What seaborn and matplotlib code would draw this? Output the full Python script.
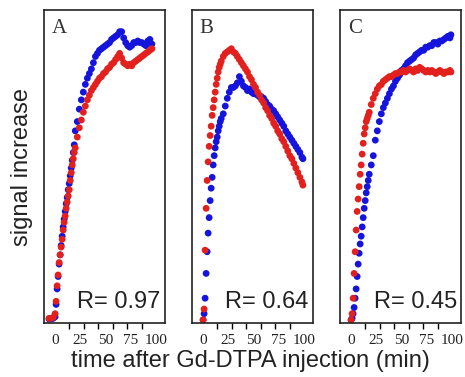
import pandas as pd
import matplotlib.pyplot as plt
import seaborn as sns
import numpy as np

sns.set_theme(style="ticks")
plt.rcParams['font.family'] = ['Liberation Sans', 'DejaVu Sans']

# time points (min) and signal increase (% of panel height)
t_a = [-6, -4, -2, 0, 1, 2, 3, 4, 5, 6, 7, 8, 9, 10, 11, 12, 13, 14, 15, 16, 17, 18, 19, 20,
       22, 24, 26, 28, 30, 32, 34, 36, 38, 40, 42, 44, 46, 48, 50, 52, 54, 56, 58, 60,
       62, 64, 66, 68, 70, 72, 74, 76, 78, 80, 82, 84, 86, 88, 90, 92, 94, 96]
red_a = [0.5, 0.5, 0.8, 2, 6, 11, 14.5, 18.5, 21, 23.5, 26, 29, 31.5, 33.5, 36, 38, 40, 42, 45, 47.5, 50, 52, 54, 55.5,
         59, 62, 64.5, 67, 69, 71, 72.5, 74, 75, 76, 77, 78, 78.5, 79.5, 80, 81, 81.5, 82.5, 83, 84,
         85, 86, 84.5, 83, 82.5, 82, 82.5, 82, 83, 83.5, 84, 84.5, 85, 85.5, 86, 86.5, 87, 87.5]
blue_a = [0.3, 0.3, 0.5, 1, 5, 10, 14, 18, 21, 24, 27, 30, 32.5, 35, 37.5, 39.5, 42, 44, 46.5, 49, 51.5, 54, 56.5, 61,
          64, 68, 71, 73.5, 76, 78, 79.5, 81, 83, 85, 86, 87, 87.5, 88, 88.5, 89, 89.5, 90.5, 91, 91.5,
          92, 93, 93, 91, 89.5, 88.5, 88, 88.5, 89.5, 89.5, 90, 89.5, 89.5, 89, 88.5, 90, 90.5, 89]

t_bc = [0, 1, 2, 3, 4, 5, 6, 7, 8, 9, 10, 11, 12, 13, 14, 15, 16, 17, 18, 20,
        22, 24, 26, 28, 30, 32, 34, 36, 38, 40, 42, 44, 46, 48, 50, 52, 54, 56, 58, 60,
        62, 64, 66, 68, 70, 72, 74, 76, 78, 80, 82, 84, 86, 88, 90, 92, 94, 96, 98, 99]
red_b = [0, 3.5, 22.5, 36, 45, 51, 56, 59.5, 62.5, 66, 68.5, 71, 73.5, 76, 78, 80, 81.5, 82.5, 83.5, 85,
         86, 86.5, 87, 87.5, 86.5, 86, 85, 84, 83, 82, 81, 80, 78.5, 77.5, 76, 75, 73.5, 72.5, 71, 70,
         68.5, 67.5, 66, 65, 63.5, 62.5, 61, 60, 58.5, 57.5, 56, 54.5, 53, 52, 50.5, 49, 47.5, 46, 44.5, 43.5]
blue_b = [0, 2, 7, 15, 22, 28, 33, 38.5, 42.5, 46, 50, 53, 55.5, 57.5, 59, 61, 62.5, 64, 65, 66.5,
          69, 71.5, 73.5, 75, 75, 75.5, 76.5, 78.5, 77, 75.5, 75, 74, 74.5, 73.5, 73, 73, 72.5, 72, 72, 71.5,
          70.5, 69.5, 69, 68, 67.5, 66.5, 65.5, 64.5, 63.5, 62.5, 61, 60, 59, 58, 57, 56, 55, 54, 52.5, 52]
red_c = [0, 2, 7, 15, 22, 29, 35, 39, 43, 47, 50, 53.5, 57, 60, 62, 64, 65, 66, 67, 69.5,
         71.5, 73, 74.5, 75.5, 76, 77, 77.5, 78, 78.5, 78.5, 79, 79.5, 79.5, 80, 80, 80.5, 80, 80.5, 81, 80.5,
         80, 81, 80.5, 81.5, 81, 80.5, 80, 80.5, 80, 80.5, 80, 79.5, 80, 80.5, 80, 79.5, 80, 80, 80.5, 80]
blue_c = [0, 0.5, 2, 4, 7, 10, 14, 18, 21.5, 24.5, 27, 30, 33, 36, 38.5, 41, 43, 45, 47, 50,
          53, 58, 61, 64, 66.5, 68.5, 70, 71.5, 73, 74.5, 75.5, 77, 78, 79, 80.5, 81, 82, 83, 83.5, 84,
          84.5, 85.5, 86, 86.5, 87, 87, 88, 88, 88.5, 88.5, 89.5, 89.5, 89, 90, 90, 90.5, 91, 91.5, 91, 92]

panels = [('A', t_a, blue_a, red_a, 'R= 0.97'),
          ('B', t_bc, blue_b, red_b, 'R= 0.64'),
          ('C', t_bc, blue_c, red_c, 'R= 0.45')]

blue = '#1414dc'
red = '#e2201e'

fig = plt.figure(figsize=(4.65, 3.77), dpi=100)
lefts = [44, 192, 340]

for left, (letter, t, b, r, rtxt) in zip(lefts, panels):
    ax = fig.add_axes([left / 465, 54 / 377, 121 / 465, 313 / 377])
    df = pd.DataFrame({'t': t + t, 'v': b + r,
                       'series': ['blue'] * len(t) + ['red'] * len(t)})
    sns.scatterplot(data=df, x='t', y='v', hue='series',
                    palette={'blue': blue, 'red': red},
                    s=24, linewidth=0, legend=False, ax=ax)
    ax.set_xlim(-11, 109)
    ax.set_ylim(-1, 100)
    ax.set_xlabel('')
    ax.set_ylabel('')
    ax.set_yticks([])
    ax.set_xticks([0, 25, 50, 75, 100])
    ax.set_xticks(np.linspace(0, 100, 8), minor=True)
    ax.tick_params(axis='x', which='major', length=0, pad=8, labelsize=11,
                   labelcolor='#222222')
    ax.tick_params(axis='x', which='minor', length=4, width=1, color='black')
    for lab in ax.get_xticklabels():
        lab.set_family('Liberation Serif')
    for sp in ax.spines.values():
        sp.set_visible(True)
        sp.set_color('#222222')
        sp.set_linewidth(1.2)
    ax.text(0.065, 0.97, letter, transform=ax.transAxes, ha='left', va='top',
            fontsize=15, family='Liberation Serif', color='#333333')
    ax.text(0.965, 0.048, rtxt, transform=ax.transAxes, ha='right', va='baseline',
            fontsize=17, color='#222222')

fig.text(250 / 465, 0.042, 'time after Gd-DTPA injection (min)', ha='center', va='center',
         fontsize=17, color='#222222')
fig.text(22 / 465, 0.557, 'signal increase', ha='center', va='center', rotation=90,
         fontsize=17, color='#222222')

plt.savefig('out.png', dpi=100)
